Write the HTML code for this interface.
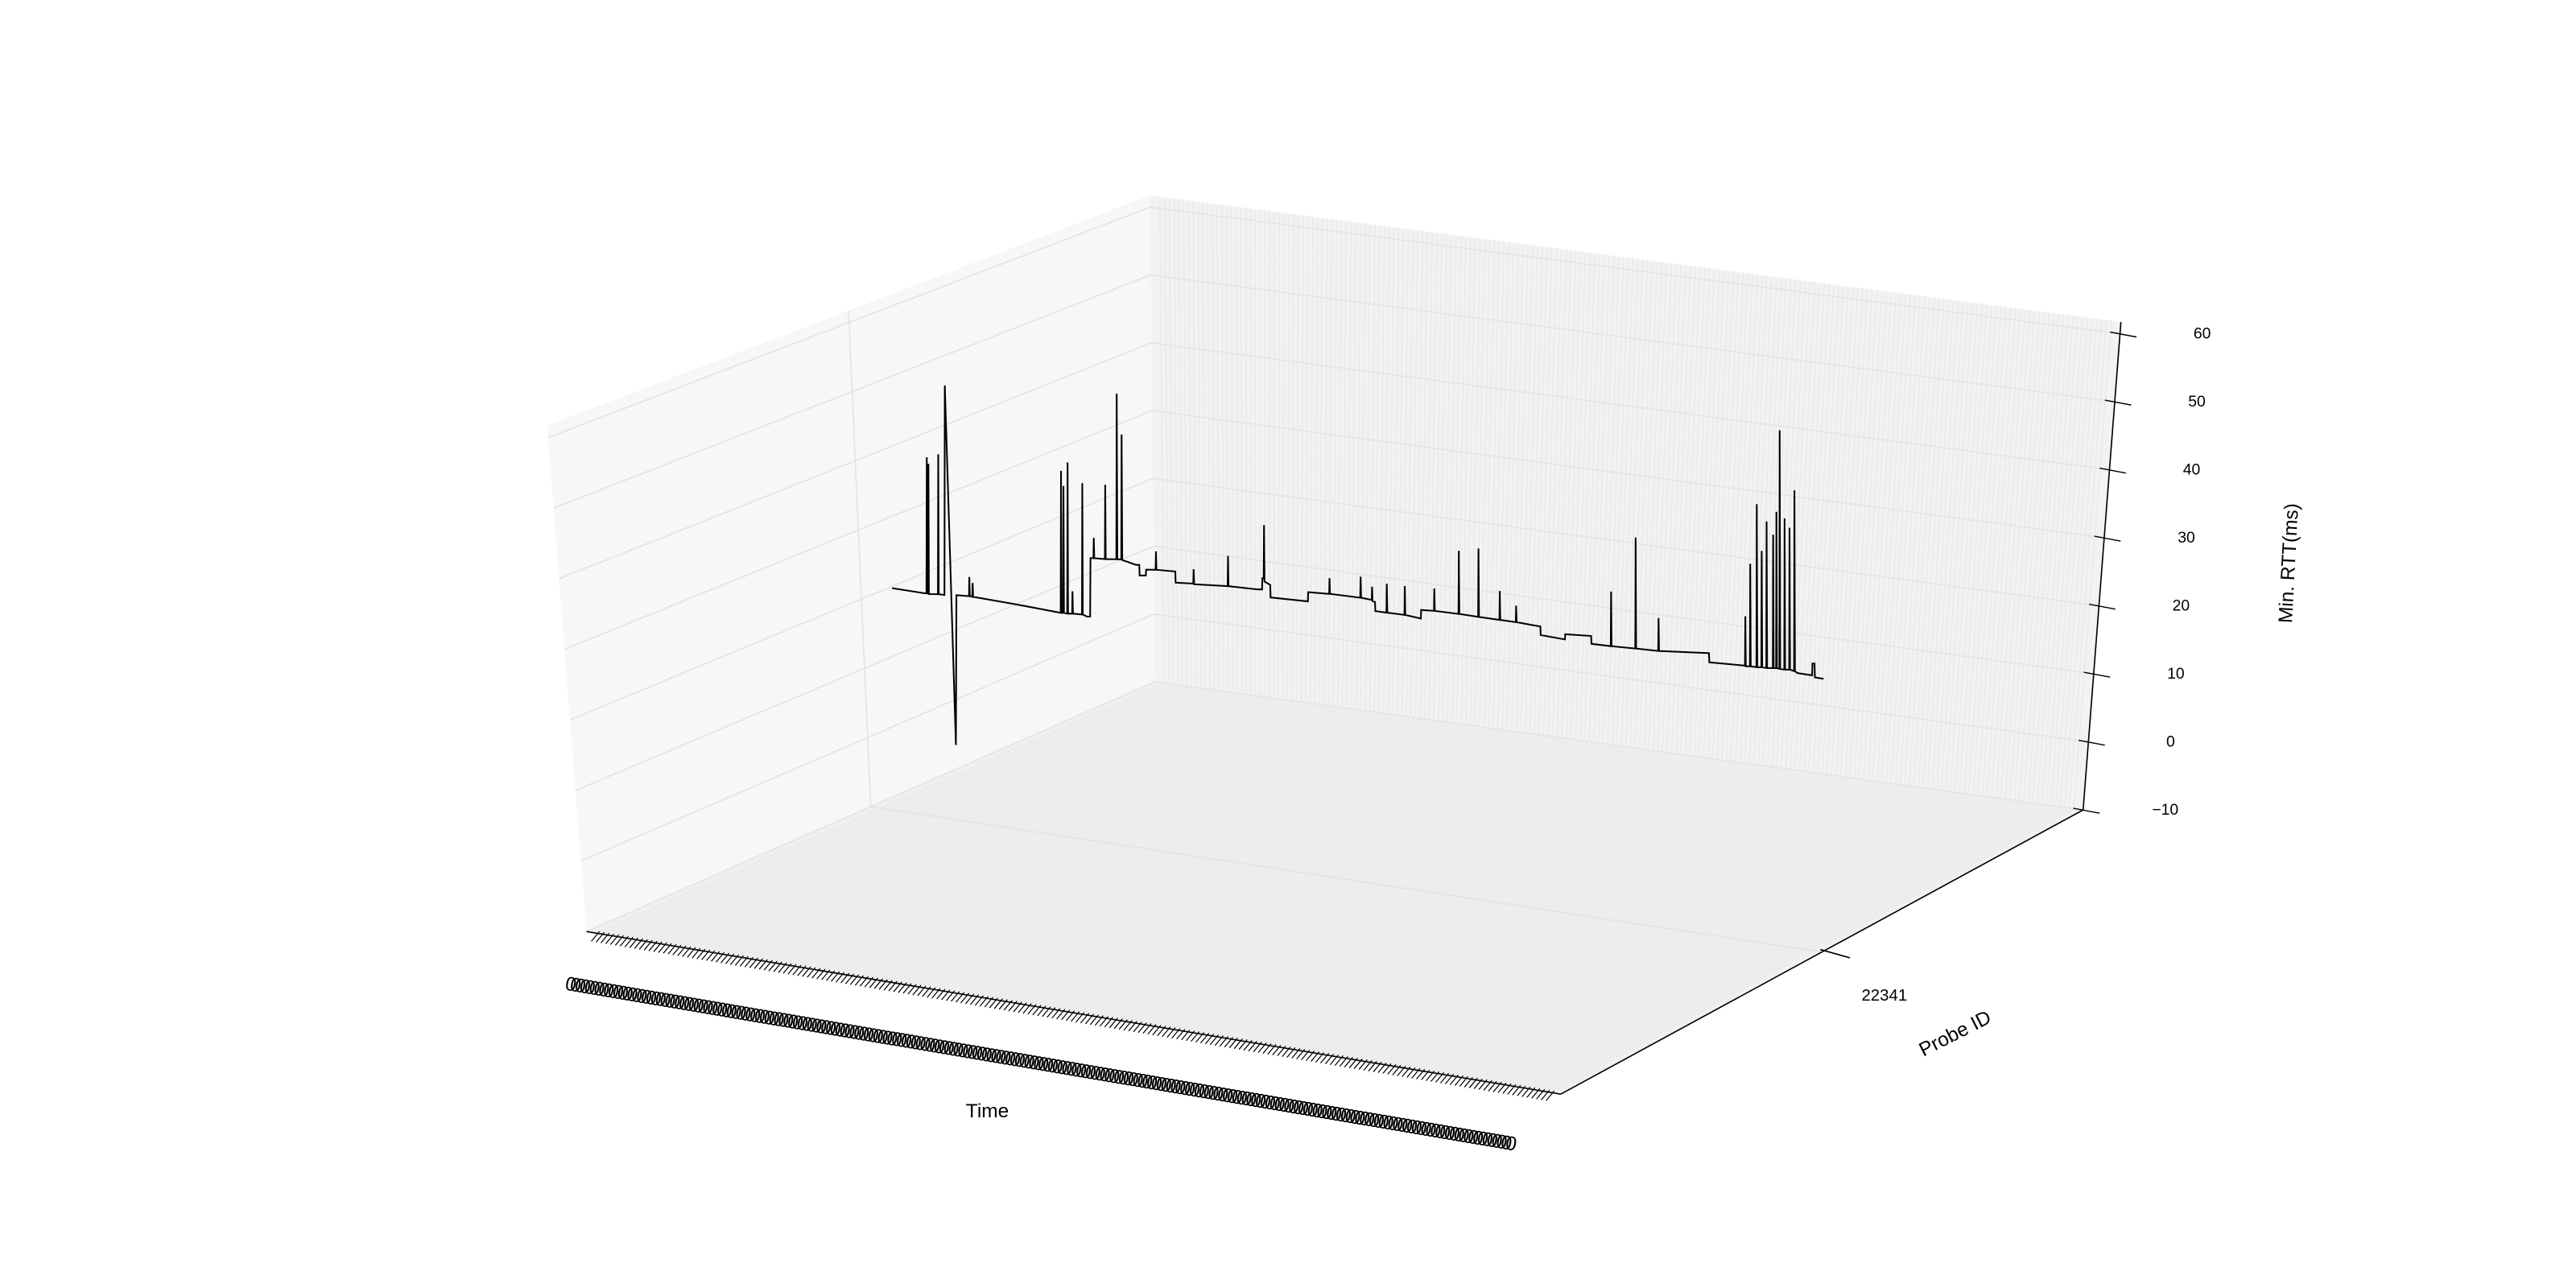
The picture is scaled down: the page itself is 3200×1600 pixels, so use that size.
<!DOCTYPE html>
<html><head><meta charset="utf-8"><style>
html,body{margin:0;padding:0;background:#fff;}
svg{display:block;}
text{font-family:"Liberation Sans",sans-serif;fill:#000;}
</style></head><body>
<svg id="chart" width="3200" height="1600" viewBox="0 0 1568 784" preserveAspectRatio="none" xmlns="http://www.w3.org/2000/svg">
<g id="panes">
<polygon points="333,259 700,119 703,415 357,567" fill="#f7f7f7"/>
<polygon points="700,119 1291,196 1268,493 703,415" fill="#f2f2f2"/>
<polygon points="357,567 703,415 1268,493 950,666" fill="#f0f0f0"/>
</g>
<g id="grid"></g>
<g id="axes">
<line x1="357" y1="567" x2="950" y2="666" stroke="#000" stroke-width="0.8"/>
<line x1="950" y1="666" x2="1268" y2="493" stroke="#000" stroke-width="0.8"/>
<line x1="1268" y1="493" x2="1291" y2="196" stroke="#000" stroke-width="0.8"/>
<line x1="1108" y1="578" x2="1126" y2="583" stroke="#000" stroke-width="0.8"/>
<text x="1147" y="609" font-size="10" text-anchor="middle">22341</text>
<text x="601" y="680" font-size="12" text-anchor="middle">Time</text>
<text x="1190" y="633" font-size="12" text-anchor="middle" transform="rotate(-27 1190 629)">Probe ID</text>
<text x="1397" y="343" font-size="12" text-anchor="middle" transform="rotate(-87 1397 343)">Min. RTT(ms)</text>
</g>
<g id="xticks"></g>
<g id="zticks"></g>
<g id="series"></g>
</svg>
<script>
const timeIdx = [0,20,21,21.2,21.5,22,22.2,22.5,28,28.2,28.5,32,32.2,39,39.3,47,47.2,47.5,49,49.2,49.5,75,103,103.2,103.5,104.5,104.7,105,107,107.2,107.5,110,110.2,110.5,116,116.2,116.5,119,121,121.2,123,123.2,123.5,130,130.2,130.5,137,137.2,137.6,140,140.2,140.6,149,151,151.2,155,155.2,161,161.2,161.5,173,173.2,184,184.2,184.5,205,205.2,205.5,223,226,226.2,227,227.2,227.5,231,231.2,254,254.2,267,267.2,267.5,286,286.2,286.5,293,293.2,293.5,295,295.2,302,302.2,302.5,313,313.2,313.5,323,323.2,331,331.2,331.5,346,346.2,346.5,358,358.2,358.5,371,371.2,371.5,381,381.2,381.5,396,396.2,411,411.2,427,427.2,439,439.2,439.5,454,454.2,454.5,468,468.2,468.5,499,499.2,521,521.2,521.5,524,524.2,524.5,528,528.2,528.5,531,531.2,531.5,534,534.2,534.5,538,538.2,538.5,540,540.2,540.5,542,542.2,542.5,545,545.2,545.5,548,548.2,548.5,551,551.2,551.5,553,562,562.2,563.5,563.7,569];
const rttValues = [22,21.3,21.3,42,21.3,21.3,41,21.2,21.2,42.5,21.2,21.1,53,-1.7,21.1,21,23.9,21,20.9,23,20.9,19.9,18.7,40.3,18.7,18.7,38,18.7,18.6,41.6,18.6,18.6,22,18.6,18.5,38.5,18.5,18.2,18.2,27.1,27.1,30.2,27.1,27,38.3,27,27,52.2,27,27,46,26.9,26.2,26.2,24.6,24.6,25.5,25.5,28.3,25.5,25.3,23.6,23.5,25.7,23.4,23.2,27.8,23.2,22.8,22.8,24.5,24.5,32.6,24,23.5,21.6,21.1,22.5,22.3,24.7,22.3,21.8,25,21.8,21.5,23.5,21.3,21.2,19.8,19.6,24,19.6,19.3,23.7,19.3,18.8,20.1,20,23.4,20,19.6,29.2,19.6,19.2,29.6,19.2,18.8,23.2,18.8,18.5,21,18.5,17.9,16.6,16,16.8,16.6,15.4,15.1,23.4,15.1,14.8,31.7,14.8,14.5,19.5,14.5,14.3,12.9,12.5,20,12.4,12.4,28,12.4,12.3,37.1,12.3,12.3,30,12.3,12.2,34.5,12.2,12.2,32.5,12.2,12.2,36,12.2,12.1,48.4,12.1,12,35,12,12,33.6,12,11.8,39.3,11.8,11.5,11.2,13,13,10.9,10.7];
const zTickValues = [-10,0,10,20,30,40,50,60];
const zTickLabels = ["\u221210","0","10","20","30","40","50","60"];
const xTickCount = 200;
const xTickLabels = Array(xTickCount).fill("0");

const NS="http://www.w3.org/2000/svg";
function mk(tag,attrs,parent){const e=document.createElementNS(NS,tag);for(const k in attrs)e.setAttribute(k,attrs[k]);parent.appendChild(e);return e;}
function lerp(a,b,t){return [a[0]+(b[0]-a[0])*t,a[1]+(b[1]-a[1])*t];}
const TMAX=569;
function sx(i){return 543+i*(567/TMAX);}
function sy(i,v){const x=sx(i);const base=446+(x-543)*0.01764;return base-v*4;}
function zFrac(z){return 0.976*(z+10)/70;}
const LT=[333,259],LB=[357,567],BT=[700,119],BB=[703,415],RT=[1291,196],RB=[1268,493],FR=[950,666];
const grid=document.getElementById('grid');
zTickValues.forEach(z=>{
  const f=zFrac(z);
  const a=lerp(LB,LT,f),b=lerp(BB,BT,f),c=lerp(RB,RT,f);
  const l=mk('polyline',{points:`${a} ${b} ${c}`,fill:'none',stroke:'#e3e3e3','stroke-width':0.8},grid);
  
  
});
for(let k=0;k<xTickCount;k++){
  const t=0.01+0.98*k/(xTickCount-1);
  const top=lerp(BT,RT,t),bot=lerp(BB,RB,t),fr=lerp(LB,FR,t);
  const l=mk('polyline',{points:`${top} ${bot} ${fr}`,fill:'none',stroke:'#e6e6e6','stroke-width':0.5},grid);
  
  
}
{
  const a=lerp(LB,BB,0.5),b=lerp(FR,RB,0.5),c=lerp(LT,BT,0.5);
  const l=mk('polyline',{points:`${c} ${a} ${b}`,fill:'none',stroke:'#e3e3e3','stroke-width':0.8},grid);
  
  
}
const xt=document.getElementById('xticks');
for(let k=0;k<xTickCount;k++){
  const t=0.01+0.98*k/(xTickCount-1);
  const p=lerp(LB,FR,t);
  const tk=mk('line',{x1:p[0]+2,y1:p[1]-1,x2:p[0]-3,y2:p[1]+5,stroke:'#000','stroke-width':0.6},xt);
  
  
  const lp=lerp([341,602],[925,701],t);
  const tx=mk('text',{x:lp[0],y:lp[1],'font-size':12,'text-anchor':'middle',transform:`rotate(10 ${lp[0]} ${lp[1]})`},xt);
  tx.textContent=xTickLabels[k];
  
  
}
const zt=document.getElementById('zticks');
zTickValues.forEach((z,i)=>{
  const f=zFrac(z);
  const p=lerp(RB,RT,f);
  const tk=mk('line',{x1:p[0]-6,y1:p[1]-1,x2:p[0]+10,y2:p[1]+2,stroke:'#000','stroke-width':0.7},zt);
  
  
  const tx=mk('text',{x:p[0]+50,y:p[1]+3,'font-size':9.5,'text-anchor':'middle'},zt);
  tx.textContent=zTickLabels[i];
  
  
});
const pts=timeIdx.map((t,i)=>sx(t).toFixed(2)+','+sy(t,rttValues[i]).toFixed(2)).join(' ');
const line=mk('polyline',{points:pts,fill:'none',stroke:'#000','stroke-width':1,'stroke-linejoin':'miter'},document.getElementById('series'));


</script>
</body></html>
